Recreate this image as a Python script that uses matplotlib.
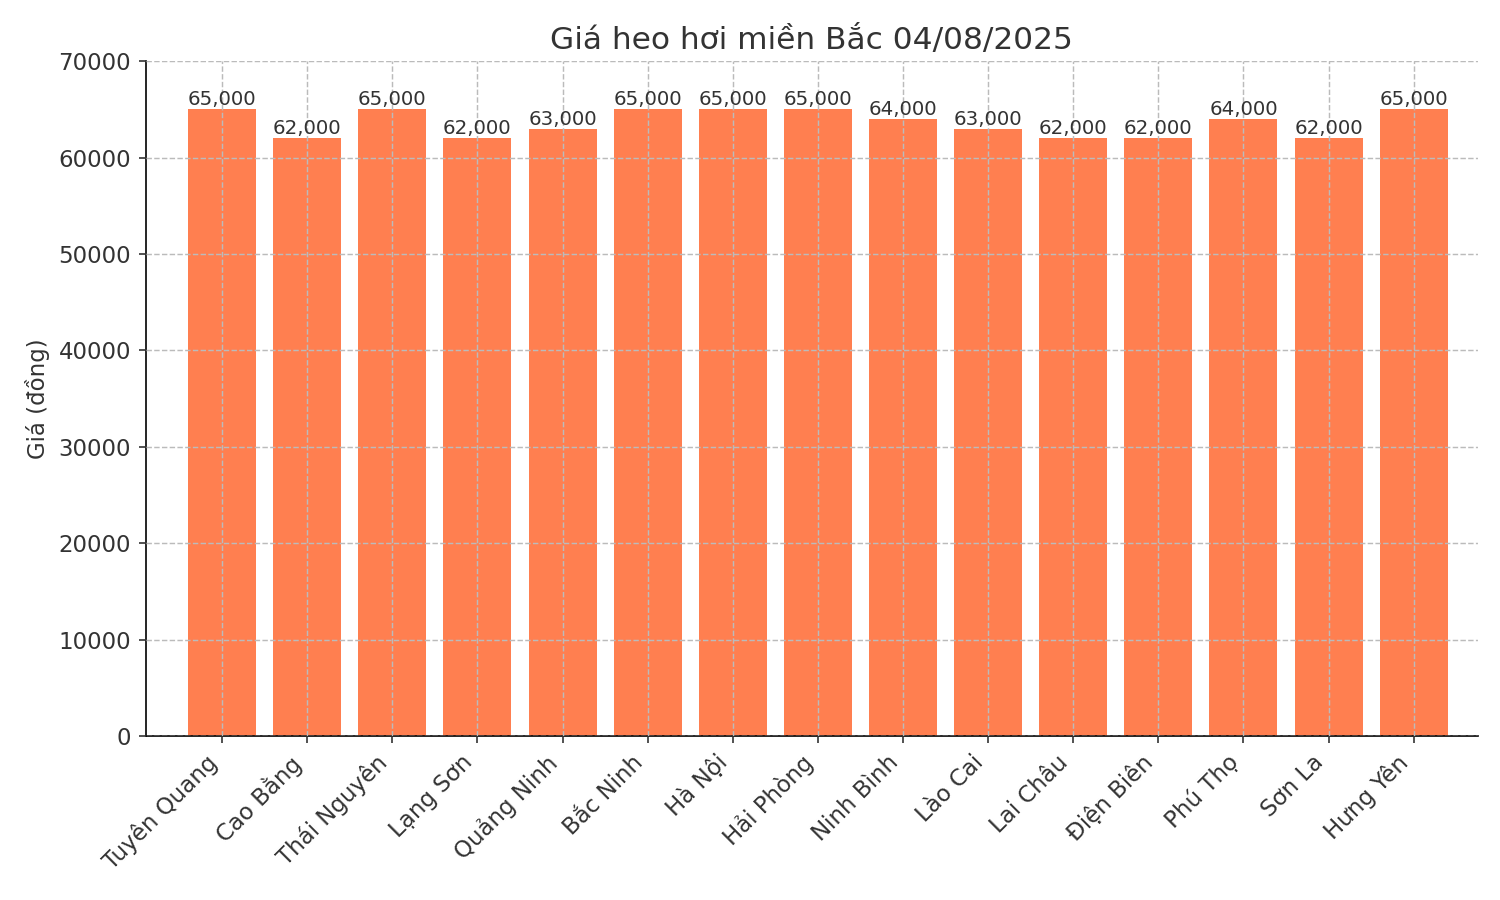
import matplotlib
matplotlib.use("Agg")
import matplotlib.pyplot as plt

provinces = ["Tuyên Quang", "Cao Bằng", "Thái Nguyên", "Lạng Sơn", "Quảng Ninh",
             "Bắc Ninh", "Hà Nội", "Hải Phòng", "Ninh Bình", "Lào Cai",
             "Lai Châu", "Điện Biên", "Phú Thọ", "Sơn La", "Hưng Yên"]
prices = [65000, 62000, 65000, 62000, 63000, 65000, 65000, 65000, 64000, 63000,
          62000, 62000, 64000, 62000, 65000]

fig, ax = plt.subplots(figsize=(10, 6), dpi=150)
fig.subplots_adjust(left=0.097, right=0.985, top=0.932, bottom=0.182)

bars = ax.bar(provinces, prices, color="#FF7F50", width=0.8, zorder=2)
for b, v in zip(bars, prices):
    ax.text(b.get_x() + b.get_width() / 2, v, f"{v:,}", ha="center", va="bottom",
            fontsize=9.5, color="#333333", zorder=3)

ax.set_ylim(0, 70000)
ax.set_xlim(-0.9, 14.75)
ax.set_title("Giá heo hơi miền Bắc 04/08/2025", fontsize=15, color="#333333")
ax.set_ylabel("Giá (đồng)", fontsize=11, color="#333333")
ax.tick_params(axis="both", labelsize=11, colors="#333333")
plt.setp(ax.get_xticklabels(), rotation=45, ha="right")
ax.grid(True, linestyle="--", color="#bbbbbb", linewidth=0.7, zorder=4)
ax.set_axisbelow(False)
ax.spines["top"].set_visible(False)
ax.spines["right"].set_visible(False)

fig.savefig("out.png")
